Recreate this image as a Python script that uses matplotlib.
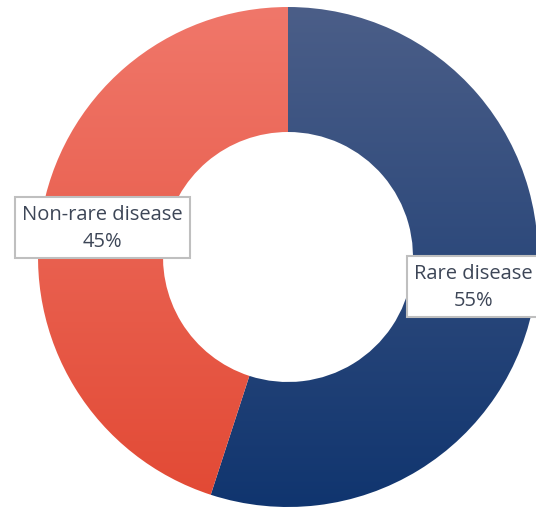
import numpy as np
import matplotlib.pyplot as plt
from matplotlib.colors import LinearSegmentedColormap

categories = ['Rare disease', 'Non-rare disease']
shares = [55, 45]

# top -> bottom gradient colours for each slice
grad_colors = [('#4b5e88', '#10356f'), ('#f0776a', '#e24934')]

fig = plt.figure(figsize=(5.36, 5.10), dpi=100)
ax = fig.add_axes([0, 0, 1, 1])
ax.axis('off')

wedges, _ = ax.pie(shares, startangle=90, counterclock=False, radius=1.0,
                   wedgeprops=dict(width=0.5, linewidth=0, edgecolor='none'))

grad = np.linspace(0, 1, 256).reshape(-1, 1)
for w, (c_top, c_bot) in zip(wedges, grad_colors):
    w.set_facecolor('none')
    cmap = LinearSegmentedColormap.from_list('g', [c_top, c_bot])
    im = ax.imshow(grad, cmap=cmap, extent=(-1, 1, -1, 1), aspect='auto',
                   origin='upper', zorder=1)
    im.set_clip_path(w)

ax.set_xlim(-1.152, 0.992)
ax.set_ylim(-1.008, 1.032)
ax.set_aspect('auto')

# labels at 75% radius on each slice's mid angle
for w, name, val in zip(wedges, categories, shares):
    mid = np.deg2rad((w.theta1 + w.theta2) / 2)
    x, y = 0.75 * np.cos(mid), 0.75 * np.sin(mid)
    ax.text(x, y, f'{name}\n{val}%', ha='center', va='center',
            fontsize=14.5, family='Open Sans', color='#3d4657', linespacing=1.5,
            zorder=3,
            bbox=dict(boxstyle='square,pad=0.35', facecolor='white',
                      edgecolor='#bfbfbf', linewidth=1.5))

fig.savefig('out.png', dpi=100)
